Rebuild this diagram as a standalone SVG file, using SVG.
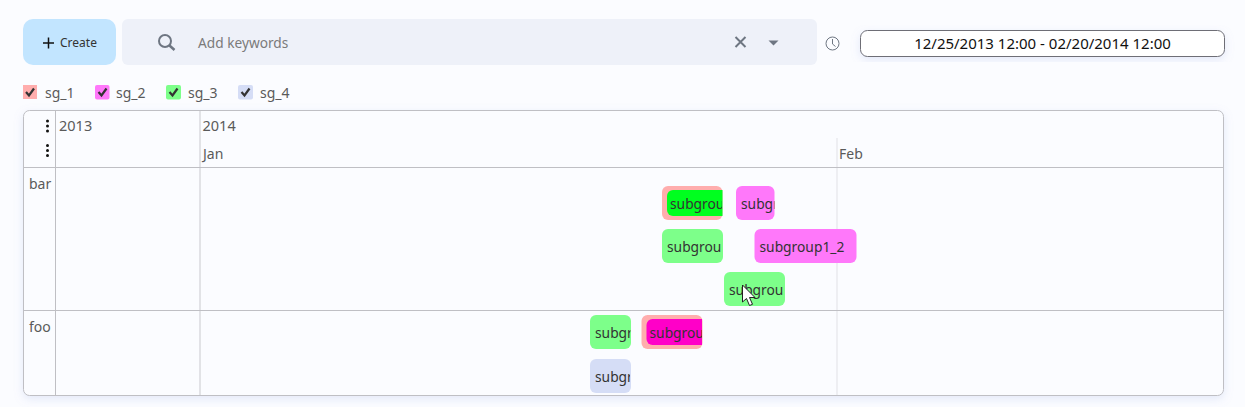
<svg xmlns="http://www.w3.org/2000/svg" width="1245" height="407" viewBox="0 0 1245 407">
<style>
text{font-family:"Noto Sans","Open Sans","Liberation Sans",sans-serif;font-size:14px;fill:#5a5a5a}
.it{fill:#333;font-size:13.800px}
.ln{stroke:#bfbfc4;stroke-width:1;fill:none}
.ln2{stroke:#e1e1e6;stroke-width:1;fill:none}
.chk{fill:none;stroke:#333;stroke-width:2.2}
.ic{fill:none;stroke:#6e7682}
.dot{fill:#111}
</style>
<defs>
<filter id="sh" x="-5%" y="-20%" width="110%" height="140%"><feDropShadow dx="0" dy="3" stdDeviation="5" flood-color="#8ea2e0" flood-opacity=".22"/></filter>
<clipPath id="c1"><rect x="662" y="186" width="60" height="34"/></clipPath>
<clipPath id="c2"><rect x="736" y="186" width="38.500" height="34"/></clipPath>
<clipPath id="c3"><rect x="662" y="229" width="60" height="34"/></clipPath>
<clipPath id="c4"><rect x="724" y="272" width="60" height="34"/></clipPath>
<clipPath id="c5"><rect x="590" y="315" width="40.500" height="34"/></clipPath>
<clipPath id="c6"><rect x="642" y="315" width="60" height="34"/></clipPath>
<clipPath id="c7"><rect x="590" y="359" width="40" height="34"/></clipPath>
</defs>
<rect width="1245" height="407" fill="#fbfcff"/>
<g id="create">
<rect x="23" y="19" width="93" height="46" rx="10" fill="#c2e5ff"/>
<path d="M48.500 37.500v11M43 43h11" stroke="#111" stroke-width="1.500" fill="none"/>
<text x="60" y="47" style="font-size:12px;fill:#333">Create</text>
</g>
<g id="search">
<rect x="122" y="19" width="695" height="46" rx="6" fill="#eef1f9"/>
<circle cx="165" cy="41" r="6" class="ic" stroke-width="2"/>
<path d="M169.500 45.500l5 4.500" class="ic" stroke-width="2.500"/>
<text x="198" y="48" style="fill:#7b7b7b;font-size:13.700px">Add keywords</text>
<path d="M735.500 37l10 10M745.500 37l-10 10" stroke="#6e7682" stroke-width="2" fill="none"/>
<path d="M768.500 40.500h10l-5 5z" fill="#6e7682"/>
</g>
<g id="clock">
<circle cx="832.500" cy="43.500" r="6.500" class="ic"/>
<path d="M832.500 39v5l3 2.500" class="ic"/>
</g>
<g id="range">
<rect x="860.500" y="30.500" width="364" height="26" rx="7" fill="#fff" stroke="#6e6e76" filter="url(#sh)"/>
<text x="1042.500" y="49" text-anchor="middle" style="fill:#111;font-size:15px">12/25/2013 12:00 - 02/20/2014 12:00</text>
</g>
<g id="sg_1">
<rect x="23" y="85" width="14" height="14" fill="#ffadad"/>
<path d="M26 92l3 3.500 5-7" class="chk"/>
<text x="45" y="98">sg_1</text>
</g>
<g id="sg_2">
<rect x="95" y="85" width="14.500" height="14.500" rx="2" fill="#ff78fa"/>
<path d="M98.500 92l3 3.500 5-7" class="chk"/>
<text x="116" y="98">sg_2</text>
</g>
<g id="sg_3">
<rect x="166" y="85" width="15" height="14.500" rx="2" fill="#7dff8a"/>
<path d="M169.500 92l3 3.500 5-7" class="chk"/>
<text x="188" y="98">sg_3</text>
</g>
<g id="sg_4">
<rect x="238" y="85" width="15" height="14.500" rx="2" fill="#d5ddf6"/>
<path d="M241.500 92l3 3.500 5-7" class="chk"/>
<text x="260" y="98">sg_4</text>
</g>
<g id="timeline">
<rect x="23.500" y="110.500" width="1200" height="285" rx="6" fill="#fbfcff" stroke="#bfbfc4" filter="url(#sh)"/>
<path d="M837 138V395" class="ln2"/>
<path d="M200 111V395" stroke="#c9c9ce" fill="none"/>
<path d="M55.500 111V395M24 167.500H1223M24 310.500H1223" class="ln"/>
<circle class="dot" cx="47.500" cy="121" r="1.500"/><circle class="dot" cx="47.500" cy="126" r="1.500"/><circle class="dot" cx="47.500" cy="131" r="1.500"/>
<circle class="dot" cx="47.500" cy="145.500" r="1.500"/><circle class="dot" cx="47.500" cy="150.500" r="1.500"/><circle class="dot" cx="47.500" cy="155.500" r="1.500"/>
<text x="59" y="131" style="font-size:14.500px">2013</text>
<text x="202.500" y="131" style="font-size:14.500px">2014</text>
<text x="203" y="159">Jan</text>
<text x="839" y="159">Feb</text>
<text x="29" y="189">bar</text>
<text x="29" y="332">foo</text>
</g>
<g id="item1">
<rect x="662" y="186" width="60.500" height="34" rx="6" fill="#ffadad"/>
<path d="M722.500 190H673a6 6 0 0 0-6 6v14a6 6 0 0 0 6 6h49.500z" fill="#00ff1f"/>
<text class="it" x="670" y="209" clip-path="url(#c1)">subgrou</text>
</g>
<g id="item2">
<rect x="736" y="186" width="38.500" height="34" rx="6" fill="#ff78fa"/>
<text class="it" x="741" y="209" clip-path="url(#c2)">subgr</text>
</g>
<g id="item3">
<rect x="662" y="229" width="61" height="34" rx="6" fill="#7dff8a"/>
<text class="it" x="667" y="252" clip-path="url(#c3)">subgroup</text>
</g>
<g id="item4">
<rect x="754.500" y="229" width="102" height="34" rx="6" fill="#ff78fa"/>
<text class="it" x="759.500" y="252">subgroup1_2</text>
</g>
<g id="item5">
<rect x="724" y="272" width="61" height="34" rx="6" fill="#7dff8a"/>
<text class="it" x="729" y="295" clip-path="url(#c4)">subgroup</text>
</g>
<g id="item6">
<rect x="590" y="315" width="41" height="34" rx="6" fill="#7dff8a"/>
<text class="it" x="595" y="338" clip-path="url(#c5)">subgr</text>
</g>
<g id="item7">
<rect x="641.500" y="315" width="61" height="34" rx="6" fill="#ffadad"/>
<path d="M702 319H652.500a6 6 0 0 0-6 6v14a6 6 0 0 0 6 6H702z" fill="#ff00c8"/>
<text class="it" x="649.500" y="338" clip-path="url(#c6)">subgrou</text>
</g>
<g id="item8">
<rect x="590" y="359" width="41" height="34" rx="6" fill="#d5ddf6"/>
<text class="it" x="595" y="382" clip-path="url(#c7)">subgr</text>
</g>
<path id="cursor" d="M742.500 285v17l4-3.500 3 7 3-1.200-3-6.800h5.500z" fill="#fff" stroke="#222" stroke-width="1"/>
</svg>
